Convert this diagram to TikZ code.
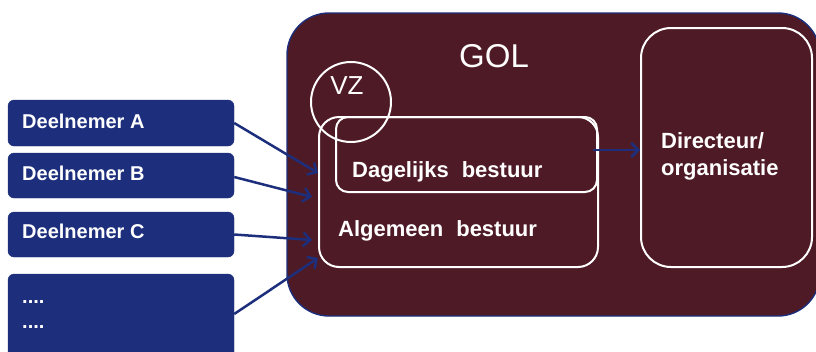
\documentclass[tikz,border=0pt]{standalone}
\usepackage{fontspec}
\setmainfont{Liberation Sans}
\usetikzlibrary{arrows.meta}
\definecolor{golred}{HTML}{4E1A25}
\definecolor{navyblue}{HTML}{1D2F7C}
\begin{document}
\begin{tikzpicture}[x=1pt,y=-1pt,
  partbox/.style={rectangle, rounded corners=6pt, fill=navyblue, draw=navyblue, minimum width=226pt, inner sep=0pt},
  whitebox/.style={rectangle, draw=white, line width=2pt, inner sep=0pt},
  wlbl/.style={text=white, font=\bfseries\fontsize{22}{26}\selectfont, anchor=base west, inner sep=0pt},
  plbl/.style={text=white, font=\bfseries\fontsize{20}{24}\selectfont, anchor=base west, inner sep=0pt},
  arr/.style={draw=navyblue, line width=2.5pt, -{Straight Barb[length=7pt,width=14pt]}}
]
\useasboundingbox (0,0) rectangle (816,351);
\clip (0,0) rectangle (816,351);
\fill[white] (0,0) rectangle (816,351);

% big GOL box
\node[rectangle, rounded corners=42pt, fill=golred, draw=navyblue, line width=1.4pt,
      minimum width=533pt, minimum height=303pt, inner sep=0pt] (gol) at (553.5,164.5) {};
\node[text=white, font=\fontsize{33}{38}\selectfont, inner sep=0pt] (goltxt) at (494,56) {GOL};

% inner boxes
\node[whitebox, rounded corners=20pt, minimum width=279pt, minimum height=150pt] (alg) at (458.5,192) {};
\node[whitebox, rounded corners=12pt, minimum width=261pt, minimum height=75pt] (dag) at (466.5,154.5) {};
\node[circle, draw=white, line width=2pt, minimum size=80pt, inner sep=0pt] (vz) at (351,102) {};
\node[text=white, font=\fontsize{26}{30}\selectfont, inner sep=0pt] (vztxt) at (347,86) {VZ};
\node[whitebox, rounded corners=30pt, minimum width=171pt, minimum height=239pt] (dir) at (726.5,147.5) {};

\node[wlbl] (dagtxt) at (352,177) {Dagelijks\hspace{13pt}bestuur};
\node[wlbl] (algtxt) at (338,236) {Algemeen\hspace{13pt}bestuur};
\node[wlbl] (dir1) at (661,148) {Directeur/};
\node[wlbl] (dir2) at (661,175) {organisatie};

% participants
\node[partbox, minimum height=46pt] (pA) at (121,123) {};
\node[partbox, minimum height=45pt] (pB) at (121,175.5) {};
\node[partbox, minimum height=45pt] (pC) at (121,234.5) {};
\node[partbox, minimum height=88pt] (pD) at (121,318) {};
\node[plbl] (tA) at (22,128) {Deelnemer A};
\node[plbl] (tB) at (22,180) {Deelnemer B};
\node[plbl] (tC) at (22,238) {Deelnemer C};
\node[plbl] (tD1) at (22,303) {....};
\node[plbl] (tD2) at (22,328) {....};

% arrows
\coordinate (eA) at (318,173);
\coordinate (eB) at (312,197);
\coordinate (eC) at (312,240);
\coordinate (eD) at (318,258);
\coordinate (sdir) at (593,150);
\draw[arr] (pA.east) -- (eA);
\draw[arr] ([yshift=-1.5pt]pB.east) -- (eB);
\draw[arr] (pC.east) -- (eC);
\draw[arr] ([yshift=4pt]pD.east) -- (eD);
\draw[arr] (sdir) -- (dir.west |- sdir);
\end{tikzpicture}
\end{document}
